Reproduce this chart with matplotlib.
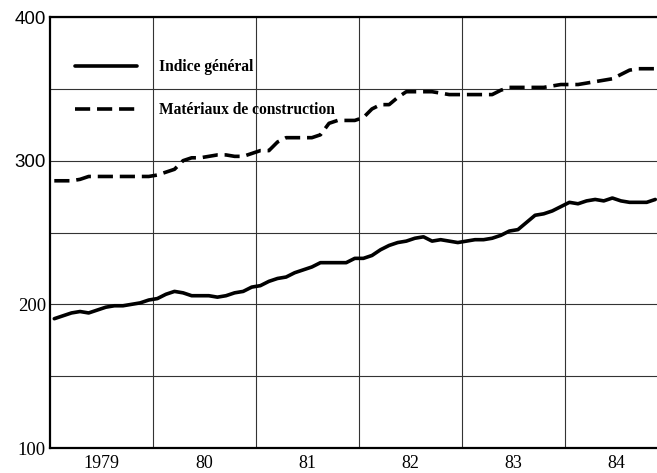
import matplotlib
matplotlib.use('Agg')
import matplotlib.pyplot as plt
import numpy as np

# monthly index values, jan 1979 -> nov 1984
year_labels = ['1979', '80', '81', '82', '83', '84']
indice_general = [190, 192, 194, 195, 194, 196, 198, 199, 199, 200, 201, 203,
                  204, 207, 209, 208, 206, 206, 206, 205, 206, 208, 209, 212,
                  213, 216, 218, 219, 222, 224, 226, 229, 229, 229, 229, 232,
                  232, 234, 238, 241, 243, 244, 246, 247, 244, 245, 244, 243,
                  244, 245, 245, 246, 248, 251, 252, 257, 262, 263, 265, 268,
                  271, 270, 272, 273, 272, 274, 272, 271, 271, 271, 273]
materiaux = [286, 286, 286, 287, 289, 289, 289, 289, 289, 289, 289, 289,
             290, 292, 294, 300, 302, 302, 303, 304, 304, 303, 303, 305,
             307, 307, 313, 316, 316, 316, 316, 318, 326, 328, 328, 328,
             330, 336, 339, 339, 344, 348, 348, 348, 348, 347, 346, 346,
             346, 346, 346, 346, 349, 351, 351, 351, 351, 351, 352, 353,
             353, 353, 354, 355, 356, 357, 360, 363, 364, 364, 364]
y_ticks = [100, 150, 200, 250, 300, 350, 400]
y_labels = ['100', '', '200', '', '300', '', '400']

x = 1979 + (np.arange(len(indice_general)) + 0.5) / 12

fig = plt.figure(figsize=(6.57, 4.73), dpi=100)
ax = fig.add_axes([50/657, 25/473, 607/657, 431/473])

ax.plot(x, indice_general, color='black', lw=2.6, solid_capstyle='round',
        label='Indice général')
ax.plot(x, materiaux, color='black', lw=2.6, dashes=(4.2, 1.9),
        label='Matériaux de construction')

ax.set_xlim(1979, 1979 + 70.7/12)
ax.set_ylim(100, 400)

# year boundaries as gridlines, labels in the middle of each year
ax.set_xticks(np.arange(1980, 1985))
ax.set_xticklabels([])
ax.set_xticks(np.arange(1979, 1985) + 0.5, minor=True)
ax.set_xticklabels(year_labels, minor=True, family='Liberation Serif', fontsize=13)
ax.set_yticks(y_ticks)
ax.set_yticklabels(y_labels, fontsize=13.5)
for lab in ax.get_yticklabels():
    if lab.get_text() in ('400', '300'):
        lab.set_family('Liberation Sans')
    else:
        lab.set_family('Liberation Serif')

ax.tick_params(axis='both', which='both', length=0)
ax.tick_params(axis='x', which='minor', pad=5)
ax.tick_params(axis='y', pad=3)
ax.grid(True, which='major', color='#333333', lw=0.8)

for s in ['left', 'top', 'bottom']:
    ax.spines[s].set_linewidth(1.6)
ax.spines['right'].set_visible(False)

leg = ax.legend(loc='upper left', bbox_to_anchor=(0.041, 0.902), frameon=False,
                borderpad=0, borderaxespad=0, handlelength=4.0, handletextpad=1.4,
                labelspacing=1.75, prop={'family': 'Liberation Serif', 'weight': 'bold', 'size': 11.2})

fig.savefig('out.png', dpi=100)
